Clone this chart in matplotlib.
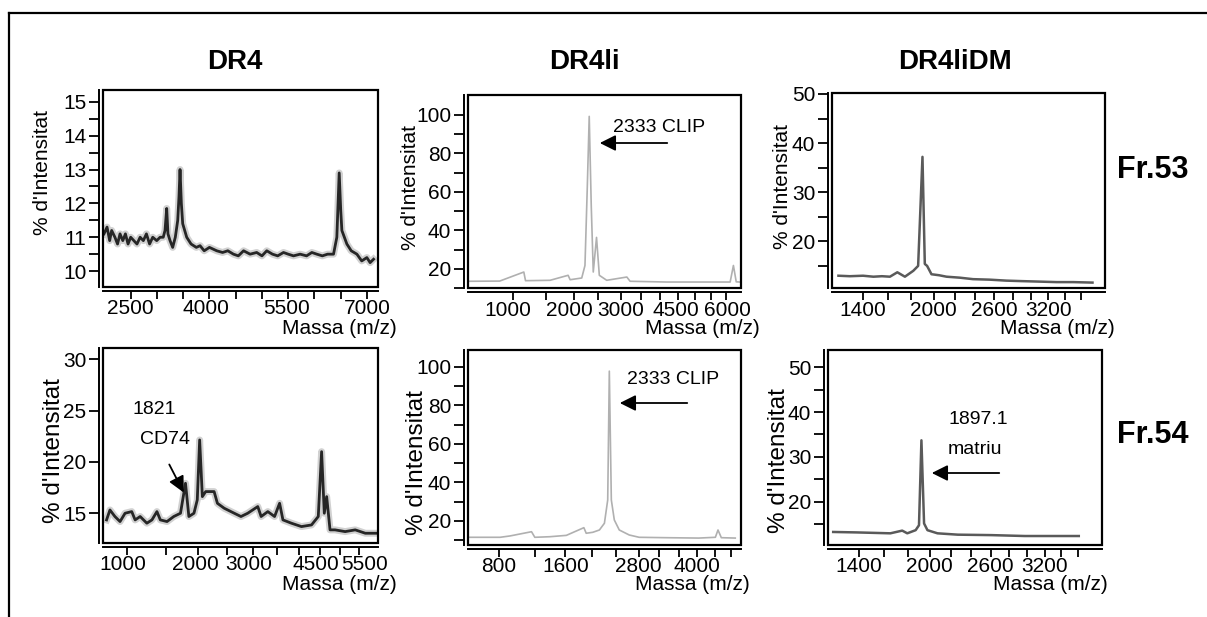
import matplotlib
matplotlib.use("Agg")
import matplotlib.pyplot as plt
from matplotlib.patches import Rectangle, FancyArrowPatch
from matplotlib.transforms import ScaledTranslation
import numpy as np

plt.rcParams['font.family'] = ['Liberation Sans', 'DejaVu Sans']

# ---- spectra: m/z and % intensity ----
dr4_53_mz = [1992, 2050, 2100, 2138, 2200, 2250, 2297, 2350, 2400, 2450,
             2500, 2560, 2620, 2680, 2741, 2800, 2860, 2920, 2996, 3060,
             3120, 3154, 3186, 3210, 3250, 3300, 3350, 3396, 3420, 3440,
             3465, 3491, 3567, 3650, 3750, 3821, 3900, 4000, 4139, 4250,
             4350, 4457, 4550, 4650, 4774, 4900, 5000, 5092, 5200, 5300,
             5410, 5500, 5600, 5727, 5850, 5950, 6045, 6150, 6250, 6363,
             6426, 6471, 6500, 6522, 6617, 6700, 6808, 6900, 6998, 7060,
             7125]
dr4_53_int = [11.1, 11.3, 10.9, 11.2, 11.0, 10.8, 11.1, 10.9, 11.1, 10.8,
              11.0, 10.9, 10.8, 11.0, 10.9, 11.1, 10.8, 11.0, 10.9, 11.0,
              11.0, 11.2, 11.85, 11.1, 10.9, 10.7, 11.0, 11.5, 12.2, 13.0,
              12.0, 11.4, 11.0, 10.8, 10.7, 10.75, 10.6, 10.7, 10.6, 10.55,
              10.6, 10.5, 10.45, 10.6, 10.5, 10.55, 10.45, 10.6, 10.5, 10.45,
              10.55, 10.5, 10.45, 10.5, 10.45, 10.55, 10.5, 10.45, 10.5, 10.5,
              11.0, 12.9, 11.8, 11.2, 10.8, 10.6, 10.5, 10.3, 10.4, 10.25,
              10.35]

dr4li_53_mz = [500, 830, 1155, 1180, 1570, 1892, 1930, 2155, 2220, 2268,
               2307, 2349, 2391, 2460, 2520, 2682, 3148, 3227, 4186, 6130,
               6240, 6336, 6450]
dr4li_53_int = [13.5, 13.6, 18.3, 13.8, 14.0, 16.6, 14.3, 15.2, 21.7, 63,
                99.2, 52.7, 18.3, 36.3, 16.6, 14.0, 15.7, 13.5, 13.1, 13.1,
                21.7, 13.2, 13.1]

dr4lidm_53_mz = [1216, 1300, 1400, 1481, 1550, 1616, 1678, 1743, 1816, 1859,
                 1898, 1919, 1940, 1980, 2050, 2121, 2250, 2381, 2550, 2729,
                 2900, 3100, 3300, 3500, 3740]
dr4lidm_53_int = [13.0, 12.9, 13.0, 12.8, 12.9, 12.8, 13.7, 12.8, 14.0, 15.0,
                  37.2, 15.4, 15.0, 13.3, 13.1, 12.8, 12.6, 12.3, 12.2, 12.0,
                  11.9, 11.8, 11.7, 11.7, 11.6]

dr4_54_mz = [776, 811, 864, 920, 977, 1055, 1096, 1158, 1243, 1310,
             1377, 1424, 1518, 1616, 1717, 1794, 1847, 1928, 1982, 2021,
             2066, 2122, 2267, 2325, 2446, 2633, 2761, 2893, 3095, 3164,
             3304, 3448, 3557, 3631, 3820, 4052, 4291, 4455, 4537, 4604,
             4663, 4748, 4876, 5138, 5407, 5683, 6062]
dr4_54_int = [14.35, 15.32, 14.68, 14.19, 15.0, 15.16, 14.35, 14.68, 14.03, 14.35,
              15.16, 14.35, 14.19, 14.68, 15.0, 17.92, 14.68, 15.0, 16.3, 22.14,
              16.62, 17.11, 17.11, 15.97, 15.49, 15.0, 14.68, 15.0, 15.65, 14.68,
              15.16, 14.68, 15.97, 14.35, 14.03, 13.7, 13.86, 14.68, 21.0, 15.0,
              16.62, 13.38, 13.38, 13.21, 13.38, 13.05, 13.05]

dr4li_54_mz = [524, 810, 913, 1157, 1197, 1386, 1613, 1871, 1907, 2010,
               2116, 2198, 2253, 2280, 2314, 2365, 2451, 2628, 2811, 3329,
               4037, 4418, 4480, 4559, 4897]
dr4li_54_int = [11.5, 11.5, 12.2, 14.4, 11.5, 11.8, 12.5, 16.5, 13.6, 14.1,
                15.3, 18.8, 30.9, 97.8, 30.9, 20.5, 15.3, 12.7, 11.5, 11.3,
                11.1, 11.5, 15.3, 11.3, 11.1]

dr4lidm_54_mz = [1207, 1382, 1652, 1753, 1797, 1871, 1901, 1923, 1947, 1978,
                 2071, 2266, 2608, 2974, 3612]
dr4lidm_54_int = [13.3, 13.2, 13.0, 13.6, 13.0, 13.7, 14.8, 33.7, 15.2, 13.7,
                  13.0, 12.7, 12.6, 12.4, 12.4]

# ---- axis ticks as printed ----
dr4_53_xt, dr4_53_xm = [2500, 4000, 5500, 7000], [3000, 3500, 4500, 5000, 6000, 6500]
dr4li_53_xt, dr4li_53_xm = [1000, 2000, 3000, 4500, 6000], [1500, 2500, 3500, 4000, 5000, 5500]
dm_xt, dm_xm = [1400, 2000, 2600, 3200], [1600, 1800, 2200, 2400, 2800, 3000, 3400, 3600]
dr4_54_xt, dr4_54_xm = [1000, 2000, 3000, 4500, 5500], [1500, 2500, 3500, 4000, 5000]
dr4li_54_xt, dr4li_54_xm = [800, 1600, 2800, 4000], [1200, 2000, 2400, 3200, 3600, 4400, 4800]

col_titles = ["DR4", "DR4li", "DR4liDM"]
row_titles = ["Fr.53", "Fr.54"]

W, H = 1207, 617
fig = plt.figure(figsize=(W / 100, H / 100), dpi=100)


def fx(x): return x / W
def fy(y): return 1 - y / H


def make_ax(box, xlim, ylim, sqrt_x):
    l, t, r, b = box
    ax = fig.add_axes([fx(l), fy(b), (r - l) / W, (b - t) / H])
    if sqrt_x:
        ax.set_xscale('function', functions=(np.sqrt, np.square))
    ax.set_xlim(*xlim); ax.set_ylim(*ylim)
    ax.spines['top'].set_visible(False); ax.spines['right'].set_visible(False)
    ax.spines['left'].set_position(('outward', 3)); ax.spines['bottom'].set_position(('outward', 3))
    ax.spines['left'].set_linewidth(1.4); ax.spines['bottom'].set_linewidth(1.4)
    ax.add_patch(Rectangle((0, 0), 1, 1, transform=ax.transAxes, fill=False, lw=1.6,
                           ec='black', clip_on=False, zorder=5))
    ax.tick_params(which='both', direction='out', length=7, width=1.3, labelsize=15, pad=2)
    ax.tick_params(axis='x', which='both', length=6, pad=0)
    return ax


def set_ticks(ax, xt, xm, yt, ym, shifts=None):
    ax.set_xticks(xt); ax.set_xticklabels([str(v) for v in xt])
    ax.set_xticks(xm, minor=True)
    ax.set_yticks(yt); ax.set_yticklabels([str(v) for v in yt])
    ax.set_yticks(ym, minor=True)
    if shifts:
        # nudge crowded tick labels sideways (pixels), as in the scan
        for lab, dx in zip(ax.get_xticklabels(), shifts):
            lab.set_transform(lab.get_transform() + ScaledTranslation(dx / 100, 0, fig.dpi_scale_trans))


def noisy_line(ax, mz, inten):
    # thick, smeared trace like the scanned spectra
    ax.plot(mz, inten, color='#9a9a9a', lw=5, alpha=0.45, solid_joinstyle='round')
    ax.plot(mz, inten, color='#262626', lw=2.0)


# top row
ax1 = make_ax((103, 90, 378, 287), (1973, 7210), (9.53, 15.35), False)
noisy_line(ax1, dr4_53_mz, dr4_53_int)
set_ticks(ax1, dr4_53_xt, dr4_53_xm, [10, 11, 12, 13, 14, 15], list(np.arange(10.5, 15, 1.0)),
          shifts=[0, -4, -2, 0])

ax2 = make_ax((468, 95, 741, 288), (484, 6500), (10.5, 110.3), True)
ax2.plot(dr4li_53_mz, dr4li_53_int, color='#b0b0b0', lw=1.2)
set_ticks(ax2, dr4li_53_xt, dr4li_53_xm, [20, 40, 60, 80, 100], [10, 30, 50, 70, 90],
          shifts=[-5, -4, 0, -2, 1])

ax3 = make_ax((832, 93, 1105, 288), (1170, 3900), (10.5, 50.2), True)
ax3.plot(dr4lidm_53_mz, dr4lidm_53_int, color='#5a5a5a', lw=1.8)
set_ticks(ax3, dm_xt, dm_xm, [20, 30, 40, 50], [15, 25, 35, 45])

# bottom row
ax4 = make_ax((103, 348, 378, 543), (740, 6040), (12.1, 31.1), True)
noisy_line(ax4, dr4_54_mz, dr4_54_int)
set_ticks(ax4, dr4_54_xt, dr4_54_xm, [15, 20, 25, 30], [], shifts=[-4, -3, -4, -4, 6])

ax5 = make_ax((468, 350, 741, 545), (520, 5040), (7.5, 108.8), True)
ax5.plot(dr4li_54_mz, dr4li_54_int, color='#b0b0b0', lw=1.2)
set_ticks(ax5, dr4li_54_xt, dr4li_54_xm, [20, 40, 60, 80, 100], [10, 30, 50, 70, 90])

ax6 = make_ax((828, 350, 1102, 545), (1170, 3906), (10.4, 53.8), True)
ax6.plot(dr4lidm_54_mz, dr4lidm_54_int, color='#5a5a5a', lw=1.8)
set_ticks(ax6, dm_xt, dm_xm, [20, 30, 40, 50], [15, 25, 35, 45])

# axis labels placed as in the original layout (pixel positions)
ylab_pos = [(43, 172, 15), (410, 187, 15), (782, 186, 15),
            (54, 451, 17.5), (417, 463, 17.5), (779, 461, 17.5)]
for x, y, fs in ylab_pos:
    fig.text(fx(x), fy(y), "% d'Intensitat", rotation=90, ha='center', va='center', fontsize=fs)

xlab_pos = [(397, 329), (760, 329), (1115, 329), (397, 585), (750, 584), (1108, 584)]
for x, y in xlab_pos:
    fig.text(fx(x), fy(y), "Massa (m/z)", ha='right', va='center', fontsize=15)

for name, x in zip(col_titles, [235, 584, 955]):
    fig.text(fx(x), fy(62), name, ha='center', va='center', fontsize=20, fontweight='bold')
for name, y in zip(row_titles, [170, 435]):
    fig.text(fx(1153), fy(y), name, ha='center', va='center', fontsize=22, fontweight='bold')

# peak annotations
arrow = dict(arrowstyle='-|>', color='black', lw=1.3, mutation_scale=24)


def arrow_px(p0, p1):
    fig.add_artist(FancyArrowPatch((fx(p0[0]), fy(p0[1])), (fx(p1[0]), fy(p1[1])),
                                   transform=fig.transFigure, **arrow))


fig.text(fx(613), fy(128), "2333 CLIP", ha='left', va='center', fontsize=14)
arrow_px((670, 143), (597, 143))
fig.text(fx(627), fy(380), "2333 CLIP", ha='left', va='center', fontsize=14)
arrow_px((690, 403), (617, 403))
fig.text(fx(133), fy(409), "1821", ha='left', va='center', fontsize=14)
fig.text(fx(140), fy(440), "CD74", ha='left', va='center', fontsize=14)
arrow_px((168, 462), (185, 495))
fig.text(fx(948), fy(420), "1897.1", ha='left', va='center', fontsize=14)
fig.text(fx(948), fy(450), "matriu", ha='left', va='center', fontsize=14)
arrow_px((1002, 473), (929, 473))

# outer frame (top and left edges)
fig.add_artist(plt.Line2D([fx(9), fx(9)], [fy(13), 0], color='black', lw=1.6))
fig.add_artist(plt.Line2D([fx(9), 1], [fy(13), fy(13)], color='black', lw=1.6))

fig.savefig("out.png", dpi=100)
